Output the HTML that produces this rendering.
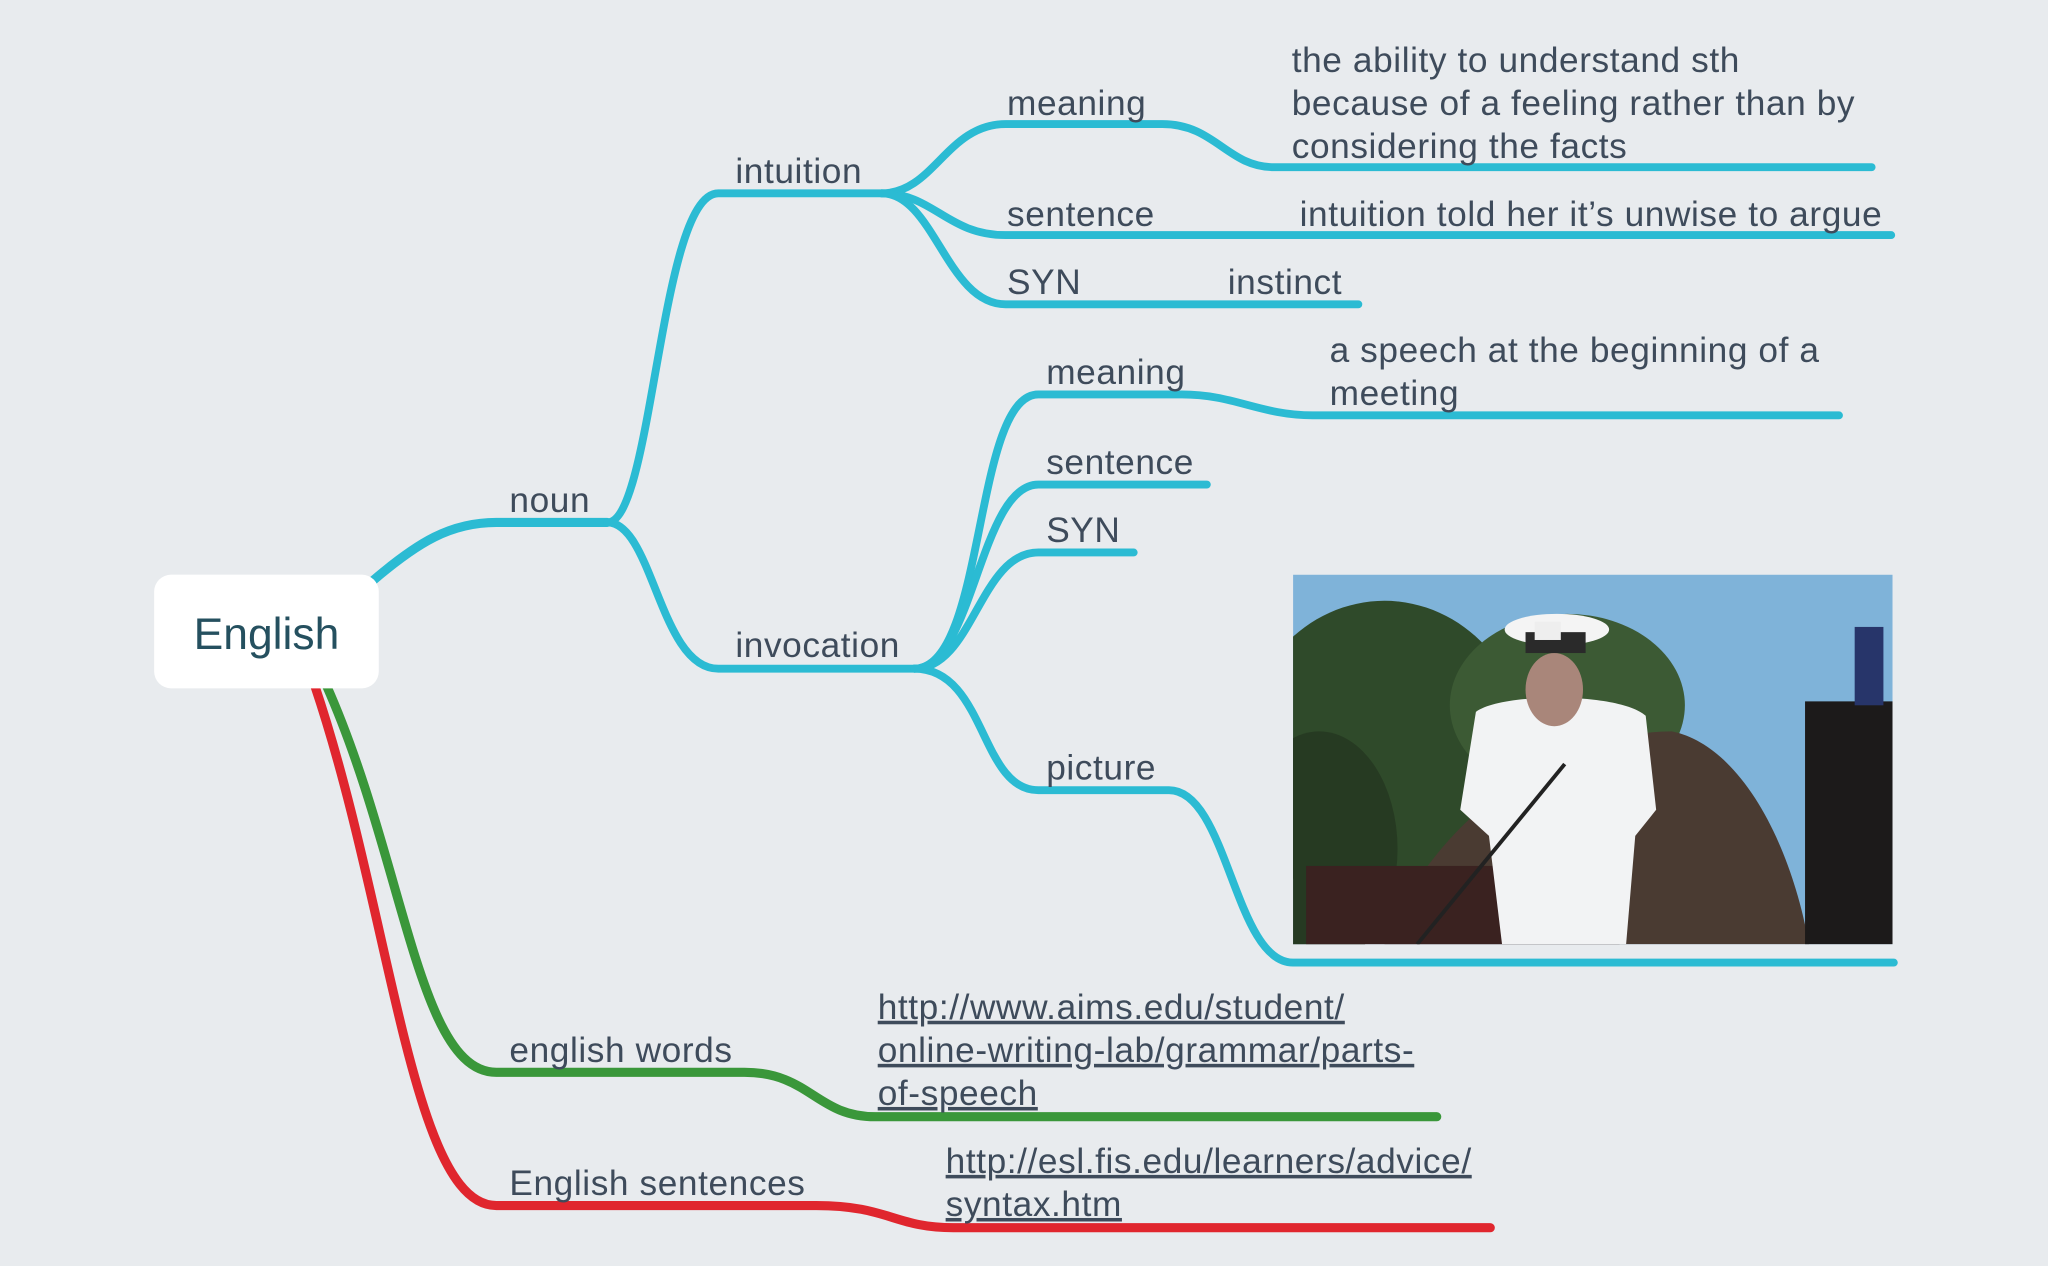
<!DOCTYPE html>
<html><head><meta charset="utf-8">
<style>
html,body{margin:0;padding:0;background:#e8ebee;}
svg{display:block;}
text{font-family:"Liberation Sans",sans-serif;fill:#3e4b5b;font-size:27px;letter-spacing:0.45px;}
</style></head>
<body>
<svg width="2048" height="1266" viewBox="0 0 1568 969.3">
<rect width="1568" height="970" fill="#e8ebee"/>
<g fill="none" stroke-linecap="round">
<path d="M285,445 C320,415 345,400 380,400 L465,400" stroke="#2bbbd3" stroke-width="7"/>
<path d="M465,400 C500,400 505,148 550,148 L675,148" stroke="#2bbbd3" stroke-width="6"/>
<path d="M465,400 C500,400 505,512 550,512 L700,512" stroke="#2bbbd3" stroke-width="6"/>
<path d="M675,148 C715,148 725,95 770,95 L890,95 C930,95 940,128 975,128 L1433,128" stroke="#2bbbd3" stroke-width="6"/>
<path d="M675,148 C715,148 725,180 770,180 L1448,180" stroke="#2bbbd3" stroke-width="6"/>
<path d="M675,148 C715,148 725,233 770,233 L1040,233" stroke="#2bbbd3" stroke-width="6"/>
<path d="M700,512 C755,512 745,302 795,302 L905,302 C945,302 965,318 1005,318 L1408,318" stroke="#2bbbd3" stroke-width="6"/>
<path d="M700,512 C745,512 750,371 795,371 L924,371" stroke="#2bbbd3" stroke-width="6"/>
<path d="M700,512 C745,512 750,423 795,423 L868,423" stroke="#2bbbd3" stroke-width="6"/>
<path d="M700,512 C755,512 750,605 795,605 L895,605 C940,605 945,737 990,737 L1450,737" stroke="#2bbbd3" stroke-width="6"/>
<path d="M250,525 C310,660 320,821 380,821 L570,821 C620,821 625,855 670,855 L1100,855" stroke="#3a973a" stroke-width="7"/>
<path d="M241,525 C300,700 315,923 380,923 L625,923 C680,923 685,940 730,940 L1141,940" stroke="#e0262e" stroke-width="7"/>
</g>
<rect x="118" y="440" width="172" height="87" rx="13" fill="#fff"/>
<text x="204" y="497" text-anchor="middle" style="font-size:34px;letter-spacing:0;fill:#25505f">English</text>
<text x="390" y="392">noun</text>
<text x="563" y="140">intuition</text>
<text x="563" y="503">invocation</text>
<text x="771" y="88">meaning</text>
<text x="771" y="173">sentence</text>
<text x="771" y="225">SYN</text>
<text x="940" y="225">instinct</text>
<text x="995" y="173">intuition told her it’s unwise to argue</text>
<text x="989" y="55">the ability to understand sth<tspan x="989" dy="33">because of a feeling rather than by</tspan><tspan x="989" dy="33">considering the facts</tspan></text>
<text x="801" y="294">meaning</text>
<text x="1018" y="277">a speech at the beginning of a<tspan x="1018" dy="33">meeting</tspan></text>
<text x="801" y="363">sentence</text>
<text x="801" y="415">SYN</text>
<text x="801" y="597">picture</text>
<text x="390" y="813">english words</text>
<text x="390" y="915">English sentences</text>
<text x="672" y="780" text-decoration="underline">http://www.aims.edu/student/<tspan x="672" dy="33">online-writing-lab/grammar/parts-</tspan><tspan x="672" dy="33">of-speech</tspan></text>
<text x="724" y="898" text-decoration="underline">http://esl.fis.edu/learners/advice/<tspan x="724" dy="33">syntax.htm</tspan></text>
<g>
<clipPath id="pc"><rect x="990" y="440" width="459" height="283"/></clipPath>
<g clip-path="url(#pc)">
<rect x="990" y="440" width="459" height="283" fill="#7fb3d9"/>
<ellipse cx="1060" cy="580" rx="110" ry="120" fill="#2f4a2a"/>
<ellipse cx="1200" cy="540" rx="90" ry="70" fill="#3c5a34"/>
<ellipse cx="1010" cy="650" rx="60" ry="90" fill="#263a22"/>
<path d="M1060,723 C1100,620 1200,560 1280,560 C1330,570 1370,640 1385,723 Z" fill="#4a3b32"/>
<rect x="1382" y="537" width="67" height="186" fill="#1c1a1a"/>
<rect x="1420" y="480" width="22" height="60" fill="#27356a"/>
<rect x="1000" y="663" width="240" height="60" fill="#3a2220"/>
<path d="M1130,545 C1150,530 1240,530 1260,548 L1268,620 L1252,640 L1245,723 L1150,723 L1140,640 L1118,620 Z" fill="#f2f3f4"/>
<ellipse cx="1190" cy="528" rx="22" ry="28" fill="#a9867a"/>
<ellipse cx="1192" cy="482" rx="40" ry="12" fill="#f4f4f4"/>
<rect x="1168" y="484" width="46" height="16" fill="#2a2a2a"/>
<rect x="1175" y="476" width="20" height="14" fill="#eee"/>
<line x1="1198" y1="585" x2="1085" y2="723" stroke="#222" stroke-width="3"/>
</g>
</g>
</svg>
</body></html>
